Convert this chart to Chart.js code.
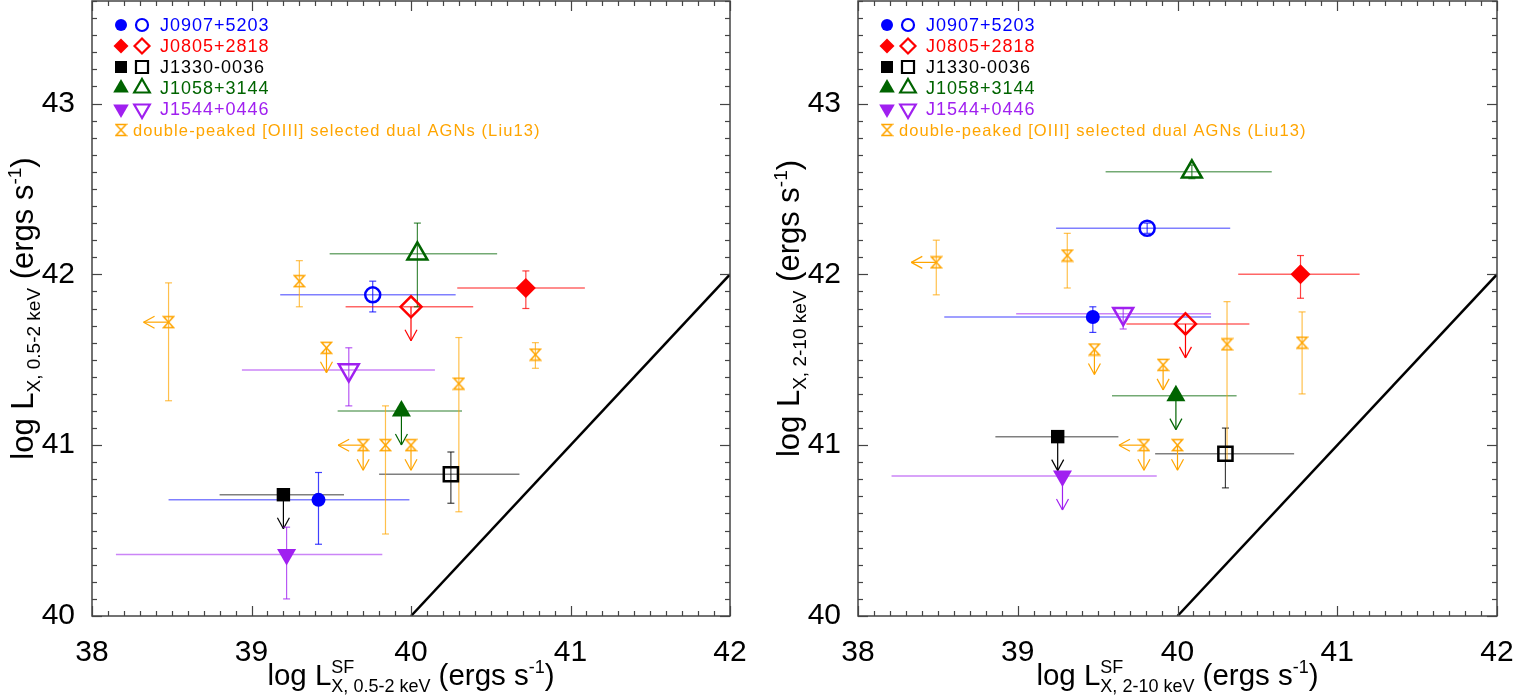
<!DOCTYPE html>
<html>
<head>
<meta charset="utf-8">
<title>X-ray luminosity vs star-formation prediction</title>
<script src="https://cdn.jsdelivr.net/npm/chart.js@4.4.1/dist/chart.umd.min.js"></script>
<style>
  html, body { margin: 0; padding: 0; background: #fff; }
  #wrap { position: relative; width: 1513px; height: 696px; overflow: hidden; }
  canvas { position: absolute; top: 0; }
  #soft { left: 0; }
  #hard { left: 766px; }
</style>
</head>
<body>
<div id="wrap">
  <canvas id="soft" width="760" height="696"></canvas>
  <canvas id="hard" width="747" height="696"></canvas>
</div>
<script>
// legend order
const sourceNames = ['J0907+5203', 'J0805+2818', 'J1330-0036', 'J1058+3144', 'J1544+0446'];
const liuLabel = 'double-peaked [OIII] selected dual AGNs (Liu13)';

// axis ranges (log erg/s)
const xRange = [38, 42];
const yRange = [40, 43.6];
const oneToOne = [40, 42];

// rows: x, xLo, xHi, y, yLo, yHi, limit
// 0.5-2 keV
const softFilled = [
  [39.42, 38.48, 39.99, 40.68, 40.42, 40.84, ''],
  [40.72, 40.29, 41.09, 41.92, 41.80, 42.02, ''],
  [39.20, 38.80, 39.58, 40.71, null, null, 'down'],
  [39.94, 39.54, 40.32, 41.20, null, null, 'down'],
  [39.22, 38.15, 39.82, 40.36, 40.10, 40.52, '']
];
const softOpen = [
  [39.76, 39.18, 40.28, 41.88, 41.78, 41.96, ''],
  [40.00, 39.59, 40.39, 41.81, null, null, 'down'],
  [40.25, 39.80, 40.68, 40.83, 40.66, 40.96, ''],
  [40.04, 39.49, 40.54, 42.12, 41.81, 42.30, ''],
  [39.61, 38.94, 40.15, 41.44, 41.23, 41.57, '']
];
const softLiu = [
  [38.48, null, null, 41.72, 41.26, 41.95, 'left'],
  [39.30, null, null, 41.96, 41.81, 42.08, ''],
  [39.47, null, null, 41.57, null, null, 'down'],
  [40.30, null, null, 41.36, 40.61, 41.63, ''],
  [40.78, null, null, 41.53, 41.45, 41.60, ''],
  [39.70, null, null, 41.00, null, null, 'left down'],
  [39.84, null, null, 41.00, 40.48, 41.23, ''],
  [40.00, null, null, 41.00, null, null, 'down']
];

// 2-10 keV
const hardFilled = [
  [39.47, 38.54, 40.21, 41.75, 41.66, 41.81, ''],
  [40.77, 40.38, 41.14, 42.00, 41.86, 42.11, ''],
  [39.25, 38.86, 39.63, 41.05, null, null, 'down'],
  [39.99, 39.59, 40.37, 41.29, null, null, 'down'],
  [39.28, 38.21, 39.87, 40.82, null, null, 'down']
];
const hardOpen = [
  [39.81, 39.24, 40.33, 42.27, 42.24, 42.30, ''],
  [40.05, 39.68, 40.45, 41.71, null, null, 'down'],
  [40.30, 39.86, 40.73, 40.95, 40.75, 41.10, ''],
  [40.09, 39.55, 40.59, 42.60, 42.56, 42.64, ''],
  [39.66, 38.99, 40.21, 41.77, 41.68, 41.80, '']
];
const hardLiu = [
  [38.49, null, null, 42.07, 41.88, 42.20, 'left'],
  [39.31, null, null, 42.11, 41.92, 42.24, ''],
  [39.48, null, null, 41.56, null, null, 'down'],
  [40.31, null, null, 41.59, 40.91, 41.84, ''],
  [40.78, null, null, 41.60, 41.30, 41.78, ''],
  [39.91, null, null, 41.47, null, null, 'down'],
  [39.79, null, null, 41.00, null, null, 'left down'],
  [40.00, null, null, 41.00, null, null, 'down']
];

// styles
const FONT = "'Liberation Sans', Arial, Helvetica, sans-serif";
const colors = ['#0000ff', '#ff0000', '#000000', '#006400', '#a020f0'];
const barColors = ['rgba(0,0,255,0.5)', 'rgba(255,0,0,0.6)', 'rgba(0,0,0,0.5)', 'rgba(0,100,0,0.55)', 'rgba(160,32,240,0.55)'];
const shapes = ['circle', 'rectRot', 'rect', 'triangle', 'triangle'];
const turns = [0, 0, 0, 0, 180];
const radii = [7, 10, 9.5, 11, 11];
const legendRadii = [6, 7.5, 8.5, 9, 9];
const orange = '#ffa500';

Chart.defaults.font.family = FONT;

function hourglass(color) {
  const c = document.createElement('canvas');
  c.width = 13; c.height = 14;
  const g = c.getContext('2d');
  g.strokeStyle = color;
  g.lineWidth = 1.5;
  g.beginPath();
  g.moveTo(1.5, 1.5); g.lineTo(11.5, 1.5);
  g.lineTo(1.5, 12.5); g.lineTo(11.5, 12.5);
  g.closePath();
  g.stroke();
  return c;
}
const liuMark = hourglass(orange);

function pointSets(rows, filled) {
  return rows.map((r, i) => ({
    rows: [r],
    barColor: barColors[i],
    tickColor: colors[i],
    arrowLen: 34,
    data: [{ x: r[0], y: r[3] }],
    pointStyle: shapes[i],
    pointRotation: turns[i],
    pointRadius: filled ? radii[i] : radii[i] + 0.5,
    pointHoverRadius: filled ? radii[i] : radii[i] + 0.5,
    pointBackgroundColor: filled ? colors[i] : 'rgba(0,0,0,0)',
    pointBorderColor: colors[i],
    pointBorderWidth: filled ? 0 : 2.5
  }));
}

function line(ctx, x1, y1, x2, y2) {
  ctx.beginPath(); ctx.moveTo(x1, y1); ctx.lineTo(x2, y2); ctx.stroke();
}

// error bars and limit arrows under the markers
const errorBars = {
  id: 'errorBars',
  beforeDatasetsDraw(chart) {
    const { ctx, chartArea: a, scales: { x, y } } = chart;
    ctx.save();
    ctx.beginPath(); ctx.rect(a.left, a.top, a.width, a.height); ctx.clip();
    chart.data.datasets.forEach(ds => {
      if (!ds.rows) return;
      ds.rows.forEach(r => {
        const px = x.getPixelForValue(r[0]), py = y.getPixelForValue(r[3]);
        if (r[1] !== null) {
          ctx.strokeStyle = ds.barColor; ctx.lineWidth = 1.5;
          line(ctx, x.getPixelForValue(r[1]), py, x.getPixelForValue(r[2]), py);
        }
        ctx.strokeStyle = ds.tickColor; ctx.lineWidth = 1.2;
        if (r[4] !== null) {
          const lo = y.getPixelForValue(r[4]), hi = y.getPixelForValue(r[5]);
          ctx.globalAlpha = ds.vAlpha || 0.75;
          line(ctx, px, lo, px, hi);
          line(ctx, px - 3.5, lo, px + 3.5, lo);
          line(ctx, px - 3.5, hi, px + 3.5, hi);
          ctx.globalAlpha = 1;
        }
        const L = ds.arrowLen;
        if (r[6].includes('down')) {
          line(ctx, px, py, px, py + L);
          line(ctx, px - 6, py + L - 11, px, py + L);
          line(ctx, px + 6, py + L - 11, px, py + L);
        }
        if (r[6].includes('left')) {
          line(ctx, px, py, px - L, py);
          line(ctx, px - L + 11, py - 6, px - L, py);
          line(ctx, px - L + 11, py + 6, px - L, py);
        }
      });
    });
    ctx.restore();
  }
};

// IDL-style box with inward ticks on all sides
const frame = {
  id: 'frame',
  afterDraw(chart) {
    const { ctx, chartArea: a, scales: { x, y } } = chart;
    ctx.save();
    ctx.strokeStyle = '#444';
    ctx.lineWidth = 1.2;
    for (let i = 0; i <= (xRange[1] - xRange[0]) * 10; i++) {
      const px = Math.round(x.getPixelForValue(xRange[0] + i / 10)) + 0.5;
      const len = i % 10 === 0 ? 10 : 5;
      line(ctx, px, a.bottom, px, a.bottom - len);
      line(ctx, px, a.top, px, a.top + len);
    }
    for (let i = 0; i <= Math.round((yRange[1] - yRange[0]) * 10); i++) {
      const py = Math.round(y.getPixelForValue(yRange[0] + i / 10)) + 0.5;
      const len = i % 10 === 0 ? 10 : 5;
      line(ctx, a.left, py, a.left + len, py);
      line(ctx, a.right, py, a.right - len, py);
    }
    ctx.lineWidth = 1.5;
    ctx.strokeRect(a.left, a.top, a.width, a.height);
    ctx.restore();
  }
};

function drawTitle(ctx, parts, x0, base, bigPx, smallPx) {
  const big = bigPx + 'px ' + FONT, small = smallPx + 'px ' + FONT;
  const widths = parts.map(p => {
    if (p.t !== undefined) { ctx.font = big; return ctx.measureText(p.t).width; }
    ctx.font = small;
    return Math.max(ctx.measureText(p.sup || '').width, ctx.measureText(p.sub || '').width);
  });
  let x = x0 - widths.reduce((s, w) => s + w, 0) / 2;
  ctx.textAlign = 'left';
  ctx.textBaseline = 'alphabetic';
  parts.forEach((p, i) => {
    if (p.t !== undefined) {
      ctx.font = big; ctx.fillText(p.t, x, base);
    } else {
      ctx.font = small;
      if (p.sup) ctx.fillText(p.sup, x, base - 12);
      if (p.sub) ctx.fillText(p.sub, x, base + 7);
    }
    x += widths[i];
  });
}

const titles = {
  id: 'titles',
  afterDraw(chart) {
    const { ctx, chartArea: a } = chart;
    const band = chart.options.band;
    ctx.save();
    ctx.fillStyle = '#000';
    drawTitle(ctx, [{ t: 'log L' }, { sup: 'SF', sub: 'X, ' + band }, { t: ' (ergs s' }, { sup: '-1' }, { t: ')' }],
      (a.left + a.right) / 2, a.bottom + 69, 29.5, 18);
    ctx.translate(33, (a.top + a.bottom) / 2);
    ctx.rotate(-Math.PI / 2);
    drawTitle(ctx, [{ t: 'log L' }, { sub: 'X, ' + band }, { t: ' (ergs s' }, { sup: '-1' }, { t: ')' }], 0, 0, 31, 19);
    ctx.restore();
  }
};

const legendBox = {
  id: 'legendBox',
  afterDatasetsDraw(chart) {
    const { ctx, chartArea: a } = chart;
    const drawPoint = Chart.helpers.drawPoint;
    ctx.save();
    ctx.textAlign = 'left';
    ctx.textBaseline = 'middle';
    sourceNames.forEach((name, i) => {
      const y = a.top + 24 + i * 21;
      ctx.fillStyle = colors[i]; ctx.strokeStyle = colors[i];
      ctx.lineWidth = 0;
      drawPoint(ctx, { pointStyle: shapes[i], radius: legendRadii[i], rotation: turns[i], borderWidth: 0 }, a.left + 29, y);
      ctx.fillStyle = 'rgba(0,0,0,0)'; ctx.lineWidth = 2.2;
      drawPoint(ctx, { pointStyle: shapes[i], radius: legendRadii[i], rotation: turns[i], borderWidth: 2.2 }, a.left + 50, y);
      ctx.fillStyle = colors[i];
      ctx.font = '18px ' + FONT;
      ctx.letterSpacing = '1px';
      ctx.fillText(name, a.left + 68, y + 1);
    });
    const yl = a.top + 24 + 5 * 21;
    ctx.drawImage(liuMark, a.left + 29 - liuMark.width / 2, yl - liuMark.height / 2);
    ctx.fillStyle = orange;
    ctx.font = '16.5px ' + FONT;
    ctx.letterSpacing = '1.1px';
    ctx.fillText(liuLabel, a.left + 41, yl + 1);
    ctx.restore();
  }
};

function makePanel(id, band, filled, open, liu, rightPad) {
  const datasets = [
    ...pointSets(filled, true),
    ...pointSets(open, false),
    {
      rows: liu, barColor: orange, tickColor: orange, vAlpha: 0.7, arrowLen: 25,
      data: liu.map(r => ({ x: r[0], y: r[3] })),
      pointStyle: liuMark, pointRadius: 7, pointHoverRadius: 7
    },
    {
      data: oneToOne.map(v => ({ x: v, y: v })),
      showLine: true, borderColor: '#000', borderWidth: 2.5, pointRadius: 0, pointHoverRadius: 0
    }
  ];
  return new Chart(document.getElementById(id), {
    type: 'scatter',
    data: { datasets },
    plugins: [errorBars, frame, titles, legendBox],
    options: {
      band,
      responsive: false,
      animation: false,
      events: [],
      layout: { autoPadding: false, padding: { top: 1, right: rightPad, bottom: 0, left: 0 } },
      plugins: { legend: { display: false }, tooltip: { enabled: false } },
      scales: {
        x: {
          type: 'linear', min: xRange[0], max: xRange[1],
          grid: { display: false }, border: { display: false },
          ticks: { stepSize: 1, includeBounds: false, color: '#000', padding: 11, font: { size: 30 } },
          afterFit(s) { s.height = 80; s.paddingLeft = 0; s.paddingRight = 0; }
        },
        y: {
          type: 'linear', min: yRange[0], max: yRange[1],
          grid: { display: false }, border: { display: false },
          ticks: { stepSize: 1, includeBounds: false, color: '#000', padding: 9, font: { size: 30 } },
          afterFit(s) { s.width = 92; s.paddingTop = 0; s.paddingBottom = 0; }
        }
      }
    }
  });
}

makePanel('soft', '0.5-2 keV', softFilled, softOpen, softLiu, 30);
makePanel('hard', '2-10 keV', hardFilled, hardOpen, hardLiu, 16);
</script>
</body>
</html>
